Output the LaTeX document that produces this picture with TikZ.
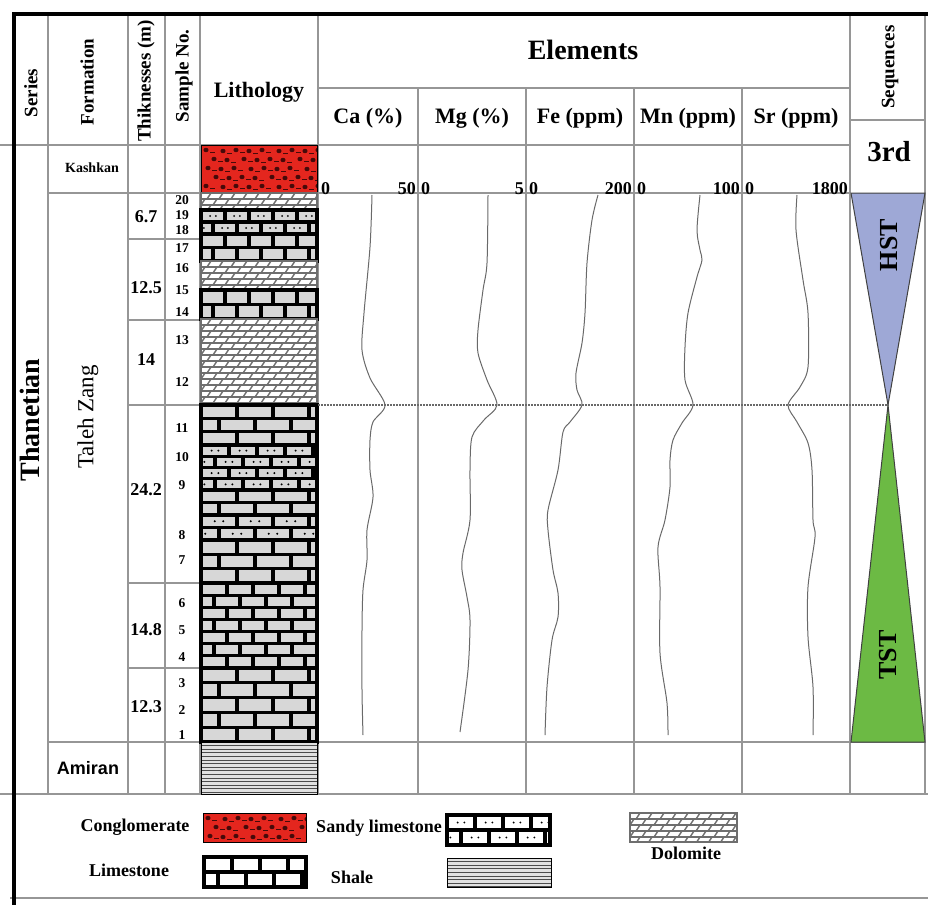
\documentclass[tikz,border=0pt]{standalone}
\usepackage{fontspec}
\setmainfont{Liberation Serif}
\setsansfont{Liberation Sans}
\usepackage{xcolor}
\usetikzlibrary{positioning, calc}
\definecolor{gridgray}{RGB}{150,150,150}
\definecolor{curvegray}{RGB}{105,105,105}
\definecolor{conglored}{RGB}{228,38,30}
\definecolor{pebble}{RGB}{70,10,10}
\definecolor{brickgray}{RGB}{215,215,215}
\definecolor{shalegray}{RGB}{225,225,225}
\definecolor{dologray}{RGB}{110,110,110}
\definecolor{hstblue}{RGB}{158,168,214}
\definecolor{tstgreen}{RGB}{108,186,68}

\tikzstyle{Grid} = [gridgray, line width=1.2pt]
\tikzstyle{Frame} = [black, line width=4.5pt]
\tikzstyle{Mortar} = [black, line width=3.2pt]
\tikzstyle{DoloLine} = [dologray, line width=1.4pt]
\tikzstyle{ShaleLine} = [black!70, line width=1pt]
\tikzstyle{Curve} = [curvegray, line width=1pt]
\tikzstyle{Head} = [font=\bfseries\fontsize{22}{24}\selectfont, inner sep=0pt]
\tikzstyle{Side} = [font=\bfseries\fontsize{19}{21}\selectfont, rotate=90, inner sep=0pt]
\tikzstyle{Num} = [font=\bfseries\fontsize{18}{20}\selectfont, inner sep=0pt]
\tikzstyle{Tiny} = [font=\bfseries\fontsize{13.5}{14}\selectfont, inner sep=0pt]
\tikzstyle{Legend} = [font=\bfseries\fontsize{18}{20}\selectfont, inner sep=0pt]

% brick pattern: x1 y1 x2 y2 row brick fill
\newcommand{\limestone}[7]{%
  \begin{scope}
    \clip (#1,#2) rectangle (#3,#4);
    \fill[#7] (#1,#2) rectangle (#3,#4);
    \pgfmathtruncatemacro\nrow{ceil((#4-#2)/#5)-1}
    \pgfmathtruncatemacro\nbrk{ceil((#3-#1)/#6)}
    \foreach \i in {0,...,\nrow}{
      \pgfmathsetmacro\ya{#2+\i*#5}
      \pgfmathsetmacro\brkshift{mod(\i,2)*#6/2}
      \draw[Mortar] (#1,\ya) -- (#3,\ya);
      \foreach \j in {0,...,\nbrk}
        \draw[Mortar] (#1+\brkshift+\j*#6,\ya) -- ++(0,#5);
    }
  \end{scope}
  \draw[Mortar] (#1,#2) rectangle (#3,#4);
}
% bricks with sand grains
\newcommand{\sandylime}[7]{%
  \limestone{#1}{#2}{#3}{#4}{#5}{#6}{#7}
  \begin{scope}
    \clip (#1,#2) rectangle (#3,#4);
    \pgfmathtruncatemacro\nrow{ceil((#4-#2)/#5)-1}
    \pgfmathtruncatemacro\nbrk{ceil((#3-#1)/#6)}
    \foreach \i in {0,...,\nrow}{
      \pgfmathsetmacro\ya{#2+\i*#5+#5/2}
      \pgfmathsetmacro\brkshift{mod(\i,2)*#6/2}
      \foreach \j in {-1,...,\nbrk}{
        \fill (#1+\brkshift+\j*#6+#6*0.38,\ya) circle (1.1);
        \fill (#1+\brkshift+\j*#6+#6*0.62,\ya) circle (1.1);
      }
    }
  \end{scope}
}
% dolomite: x1 y1 x2 y2 row
\newcommand{\dolomite}[5]{%
  \begin{scope}
    \clip (#1,#2) rectangle (#3,#4);
    \fill[white] (#1,#2) rectangle (#3,#4);
    \pgfmathtruncatemacro\nrow{ceil((#4-#2)/#5)}
    \pgfmathtruncatemacro\nbrk{ceil((#3-#1)/12)+1}
    \foreach \i in {0,...,\nrow}{
      \pgfmathsetmacro\ya{#2+\i*#5}
      \pgfmathsetmacro\brkshift{mod(\i,2)*6-6}
      \draw[DoloLine] (#1,\ya) -- (#3,\ya);
      \foreach \j in {0,...,\nbrk}
        \draw[DoloLine] (#1+\brkshift+\j*12,\ya+#5) -- ++(4,-#5);
    }
  \end{scope}
  \draw[DoloLine] (#1,#2) rectangle (#3,#4);
}
% shale: x1 y1 x2 y2
\newcommand{\shale}[4]{%
  \fill[shalegray] (#1,#2) rectangle (#3,#4);
  \pgfmathtruncatemacro\nrow{(#4-#2)/3.6}
  \foreach \i in {1,...,\nrow}
    \draw[ShaleLine] (#1,#2+\i*3.6) -- (#3,#2+\i*3.6);
  \draw[black, line width=1pt] (#1,#2) rectangle (#3,#4);
}
% conglomerate: x1 y1 x2 y2
\newcommand{\conglom}[4]{%
  \fill[conglored] (#1,#2) rectangle (#3,#4);
  \begin{scope}
    \clip (#1,#2) rectangle (#3,#4);
    \pgfmathtruncatemacro\nrow{(#4-#2)/9}
    \foreach \i in {0,...,\nrow}{
      \foreach \j in {0,...,8}{
        \pgfmathsetmacro\cx{#1+5+\j*14+mod(\i,2)*7+mod(\j*7+\i,4)}
        \pgfmathsetmacro\cy{#2+5+\i*9+mod(\j,2)}
        \fill[pebble] (\cx,\cy) ellipse (2.6 and 2.2);
        \draw[pebble, line width=0.9pt] (\cx+4,\cy+2.5) -- ++(5,0);
      }
    }
  \end{scope}
  \draw[black, line width=1pt] (#1,#2) rectangle (#3,#4);
}

\begin{document}
\begin{tikzpicture}[x=1pt, y=-1pt]
\useasboundingbox (0,0) rectangle (928,905);

% table rules
\foreach \x in {48,128,165,200,318,850,925}
  \draw[Grid] (\x,14) -- (\x,794);
\foreach \x in {418,526,634,742}
  \draw[Grid] (\x,88) -- (\x,794);
\draw[Grid] (318,88) -- (850,88);
\draw[Grid] (850,120) -- (925,120);
\draw[Grid] (0,145) -- (850,145);
\draw[Grid] (48,193) -- (200,193);
\draw[Grid, line width=1.6pt] (318,193) -- (850,193);
\foreach \y in {239,320,405,583,668}
  \draw[Grid] (128,\y) -- (200,\y);
\draw[Grid] (48,742) -- (925,742);
\draw[Grid] (0,794) -- (928,794);
\draw[Grid] (10,898) -- (928,898);

% lithology column
\conglom{201}{145}{317}{193}
\dolomite{201}{193}{317}{210}{6}
\sandylime{201}{210}{317}{234}{12}{24}{brickgray}
\limestone{201}{234}{317}{261}{13.5}{24}{brickgray}
\dolomite{201}{261}{317}{290}{6}
\limestone{201}{290}{317}{319}{14.5}{24}{brickgray}
\dolomite{201}{319}{317}{405}{6}
\limestone{201}{405}{317}{445}{13.3}{36}{brickgray}
\sandylime{201}{445}{317}{490}{11.25}{28}{brickgray}
\limestone{201}{490}{317}{515}{12.5}{36}{brickgray}
\sandylime{201}{515}{317}{540}{12.5}{36}{brickgray}
\limestone{201}{540}{317}{583}{14.3}{36}{brickgray}
\limestone{201}{583}{317}{668}{12.1}{26}{brickgray}
\limestone{201}{668}{317}{742}{14.8}{36}{brickgray}
\shale{201}{742}{317}{794}

% sequences
\draw[fill=hstblue, draw=darkgray, line width=1pt] (851,193) -- (925,193) -- (888,405) -- cycle;
\draw[fill=tstgreen, draw=darkgray, line width=1pt] (888,405) -- (925,742) -- (851,742) -- cycle;
\draw[curvegray, line width=1.2pt, dash pattern=on 1.5pt off 1.5pt] (318,405) -- (888,405);

% frame
\draw[Frame] (12,14) -- (928,14);
\draw[Frame] (14,12) -- (14,905);

% headers
\node[Side] (series) at (31,93) {Series};
\node[Side] (formation) at (87,82) {Formation};
\node[Side] (thick) at (146,81) {Thiknesses (m)};
\node[Side] (sample) at (184,76) {Sample No.};
\node[Head] (litho) at (259,92) {Lithology};
\node[Head, font=\bfseries\fontsize{28}{30}\selectfont] (elements) at (583,50) {Elements};
\node[Side] (seq) at (890,67) {Sequences};
\node[Head, font=\bfseries\fontsize{29}{31}\selectfont] (third) at (889,152) {3rd};

% element columns
\foreach \lab/\xl/\xr/\top [count=\k] in {Ca (\%)/318/418/50, Mg (\%)/418/526/5,
    Fe (ppm)/526/634/200, Mn (ppm)/634/742/100, Sr (ppm)/742/850/1800}{
  \node[Head] (el\k) at ({(\xl+\xr)/2},118) {\lab};
  \node[Num, anchor=south west] (lo\k) at (\xl+3,195) {0};
  \node[Num, anchor=south east] (hi\k) at (\xr-2,195) {\top};
}

% formations
\node[Side, font=\bfseries\fontsize{28}{30}\selectfont] (thanetian) at (30,420) {Thanetian};
\node[Side, font=\fontsize{23}{25}\selectfont] (taleh) at (88,417) {Taleh Zang};
\node[Tiny, font=\bfseries\fontsize{14}{16}\selectfont] (kashkan) at (92,168) {Kashkan};
\node[inner sep=0pt, font=\sffamily\bfseries\fontsize{18}{20}\selectfont] (amiran) at (88,768) {Amiran};

% thicknesses and samples
\foreach \t/\y [count=\k] in {6.7/217, 12.5/288, 14/360, 24.2/490, 14.8/630, 12.3/707}
  \node[Num] (th\k) at (146,\y) {\t};
\foreach \n/\y in {20/200, 19/215, 18/230, 17/248, 16/268, 15/290, 14/312, 13/340,
    12/382, 11/428, 10/457, 9/485, 8/535, 7/560, 6/603, 5/630, 4/657, 3/683, 2/710, 1/735}
  \node[Tiny] (s\n) at (182,\y) {\n};

\node[Head, rotate=90, font=\bfseries\fontsize{26}{28}\selectfont] (hst) at (889,245) {HST};
\node[Head, rotate=90, font=\bfseries\fontsize{26}{28}\selectfont] (tst) at (888,655) {TST};

% element curves
\draw[Curve] plot[smooth, tension=0.5] coordinates {(372,195) (370,247) (364,313) (362,350)
  (370,378) (385,405) (373,422) (370,440) (370,470) (373,497) (367,530) (367,560)
  (363,590) (362,630) (362,690) (363,735)};
\draw[Curve] plot[smooth, tension=0.5] coordinates {(488,195) (487,263) (483,290) (478,330)
  (478,353) (487,380) (497,405) (484,420) (472,437) (470,470) (470,520) (463,553)
  (462,570) (467,597) (470,620) (468,670) (460,732)};
\draw[Curve] plot[smooth, tension=0.5] coordinates {(598,195) (592,220) (587,263) (585,313)
  (582,343) (576,373) (577,390) (582,405) (570,422) (563,432) (558,470) (548,510)
  (548,530) (553,570) (558,593) (558,617) (552,640) (547,687) (545,735)};
\draw[Curve] plot[smooth, tension=0.5] coordinates {(700,195) (697,230) (700,250) (702,260)
  (697,277) (688,313) (685,347) (685,380) (693,405) (682,423) (673,440) (670,460)
  (670,487) (665,520) (658,547) (660,587) (660,653) (667,703) (668,735)};
\draw[Curve] plot[smooth, tension=0.5] coordinates {(797,195) (796,230) (803,280) (808,313)
  (808,367) (800,387) (788,405) (797,422) (808,443) (812,470) (813,520) (815,537)
  (808,587) (808,637) (813,687) (813,735)};

% legend
\conglom{203}{813}{306}{842}
\sandylime{447}{815}{550}{845}{15}{28}{white}
\dolomite{630}{813}{737}{842}{6}
\limestone{204}{857}{306}{887}{15}{28}{white}
\shale{447}{858}{551}{887}
\node[Legend] (lgcong) at (135,827) {Conglomerate};
\node[Legend] (lgsandy) at (379,828) {Sandy limestone};
\node[Legend] (lgdolo) at (686,853) {Dolomite};
\node[Legend] (lglime) at (129,870) {Limestone};
\node[Legend] (lgshale) at (352,877) {Shale};
\end{tikzpicture}
\end{document}
